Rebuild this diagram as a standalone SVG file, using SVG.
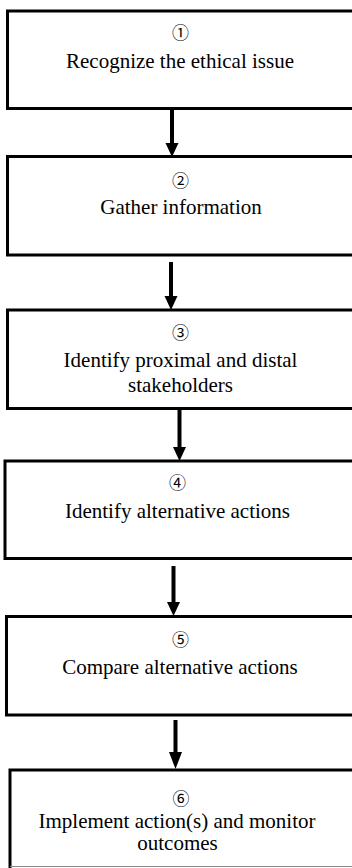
<svg xmlns="http://www.w3.org/2000/svg" width="352" height="868" viewBox="0 0 352 868">
<style>
.box{fill:#fff;stroke:#000;stroke-width:3}
.t{font-family:'Liberation Serif','Times New Roman',serif;font-size:21px;fill:#000;text-anchor:middle}
.n{font-family:'Noto Sans CJK JP','DejaVu Sans',sans-serif;font-size:17px;fill:#000;text-anchor:middle}
.shaft{stroke:#000;stroke-width:4;fill:none}
.head{fill:#000}
</style>
<rect width="352" height="868" fill="#fff"/>
<g id="node1">
<rect class="box" x="7.5" y="11" width="360" height="97.5"/>
<text class="n" x="180.5" y="39">①</text>
<text class="t" x="180" y="68">Recognize the ethical issue</text>
</g>
<g id="node2">
<rect class="box" x="7.5" y="156.5" width="360" height="98.5"/>
<text class="n" x="180.5" y="187">②</text>
<text class="t" x="181" y="214">Gather information</text>
</g>
<g id="node3">
<rect class="box" x="7.5" y="310" width="360" height="98.5"/>
<text class="n" x="180.5" y="339">③</text>
<text class="t" x="180.5" y="367">Identify proximal and distal</text>
<text class="t" x="180.5" y="392">stakeholders</text>
</g>
<g id="node4">
<rect class="box" x="5" y="461" width="360" height="97.5"/>
<text class="n" x="177.5" y="489">④</text>
<text class="t" x="177.5" y="518">Identify alternative actions</text>
</g>
<g id="node5">
<rect class="box" x="6.5" y="616.5" width="360" height="98.5"/>
<text class="n" x="180.5" y="646">⑤</text>
<text class="t" x="180" y="674">Compare alternative actions</text>
</g>
<g id="node6">
<rect x="10" y="770" width="350" height="96" fill="#fff"/>
<path d="M10,868 V770 H360" fill="none" stroke="#000" stroke-width="3"/>
<line x1="10" y1="866.5" x2="352" y2="866.5" stroke="#888" stroke-width="1"/>
<text class="n" x="181" y="805">⑥</text>
<text class="t" x="177" y="828">Implement action(s) and monitor</text>
<text class="t" x="177.5" y="850">outcomes</text>
</g>
<g id="connectors">
<line class="shaft" x1="172" y1="110" x2="172" y2="145"/>
<polygon class="head" points="165.5,143 178.5,143 172,157"/>
<line class="shaft" x1="171" y1="262" x2="171" y2="298"/>
<polygon class="head" points="164.5,296 177.5,296 171,310"/>
<line class="shaft" x1="179.5" y1="410" x2="179.5" y2="449"/>
<polygon class="head" points="173,447 186,447 179.5,461"/>
<line class="shaft" x1="173.5" y1="566" x2="173.5" y2="604"/>
<polygon class="head" points="167,602 180,602 173.5,616"/>
<line class="shaft" x1="175.5" y1="720" x2="175.5" y2="754"/>
<polygon class="head" points="169,752 182,752 175.5,769"/>
</g>
</svg>
